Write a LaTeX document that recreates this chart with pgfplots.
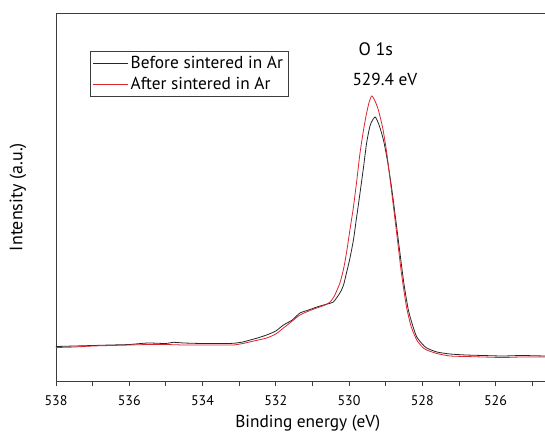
\documentclass[border=0pt]{standalone}
\usepackage{pgfplots}
\pgfplotsset{compat=1.18}
\usepackage{fontspec}
\setmainfont{PT Sans}
\definecolor{redline}{RGB}{220,35,45}
\definecolor{axgray}{RGB}{60,60,60}
\pgfplotstableread{
E I
538.0 34.5
537.5 35
537.0 35.5
536.5 36
536.0 36.5
535.5 38
535.0 37.5
534.8 38.7
534.5 38
534.0 37.5
533.5 37.5
533.16 37.7
532.9 39
532.7 41
532.5 43
532.25 46
532.0 50
531.79 56
531.55 61
531.34 68
531.1 71
530.88 74
530.6 77
530.43 79
530.25 88
530.15 96
530.07 108
529.98 122
529.88 141
529.80 162
529.70 188
529.6 215
529.52 238
529.42 256
529.29 264
529.18 256
529.06 241
528.95 220
528.84 194
528.72 160
528.61 128
528.5 97
528.38 71
528.25 54
528.15 44
528.0 37
527.88 33
527.6 29
527.24 27
526.8 26
526.33 25.5
525.8 25
525.3 25.5
524.65 25
}\before
\pgfplotstableread{
E I
538.0 33.5
537.5 34
537 35
536.5 35.5
536 36
535.5 36.5
535 36.5
534.5 36
534 36
533.5 36
533.16 36
532.9 37.5
532.6 40
532.25 43
532.0 47
531.79 53
531.55 60
531.34 66
531.1 70
530.88 73
530.65 76
530.52 79
530.4 85
530.25 98
530.15 112
530.07 128
529.98 150
529.88 174
529.79 200
529.70 228
529.6 252
529.52 268
529.45 279
529.38 285
529.29 280
529.20 271
529.08 253
528.97 228
528.85 193
528.70 148
528.57 108
528.43 74
528.3 54
528.15 41
528.0 34
527.88 31
527.6 27.5
527.24 25
526.8 24.5
526.33 24
525.8 23.5
525.3 24
524.65 24
}\after
\begin{document}
\begin{tikzpicture}
\begin{axis}[
  name=ax,
  scale only axis,
  width=366.75pt, height=276pt,
  x dir=reverse,
  xmin=524.65, xmax=538,
  ymin=0, ymax=368,
  axis x line*=bottom,
  axis y line*=left,
  axis line style={axgray, line width=0.6pt},
  xtick={526,528,...,538},
  minor xtick={525,527,...,537},
  ytick=\empty,
  tick align=outside,
  tick pos=bottom,
  major tick length=3.5pt,
  minor tick length=3.5pt,
  every tick/.style={axgray, line width=0.6pt},
  xticklabel style={font=\fontsize{10.5}{12}\selectfont, yshift=-4pt},
  /pgf/number format/assume math mode=true,
  /pgf/number format/1000 sep={},
  xlabel={Binding energy (eV)},
  ylabel={Intensity (a.u.)},
  every axis x label/.style={at={(axis description cs:0.515,-0.114)},anchor=center,font=\fontsize{13}{15}\selectfont},
  every axis y label/.style={at={(axis description cs:-0.078,0.5)},rotate=90,anchor=center,font=\fontsize{13.5}{15}\selectfont},
  legend style={at={(rel axis cs:0.0695,0.897)},anchor=north west,draw=axgray,line width=0.6pt,
    font=\fontsize{13}{15}\selectfont, inner xsep=2pt, inner ysep=1.5pt, row sep=1pt},
  legend cell align=left,
  legend image code/.code={\draw[#1] (0cm,0cm) -- (0.9cm,0cm);},
]
\addplot[black!85, line width=0.6pt, smooth, tension=0.4] table[x=E,y=I] {\before};
\addlegendentry{Before sintered in Ar}
\addplot[redline, line width=0.6pt, smooth, tension=0.4] table[x=E,y=I] {\after};
\addlegendentry{After sintered in Ar}
\node[font=\fontsize{13.5}{15}\selectfont] at (axis cs:529.27,332) {O 1s};
\node[font=\fontsize{13}{15}\selectfont] at (axis cs:529.02,302) {529.4 eV};
\end{axis}
\draw[axgray, line width=0.6pt] (ax.north west) -- (ax.north east);
\pgfresetboundingbox
\path[use as bounding box] ([shift={(-42pt,-42pt)}]ax.south west) rectangle ([shift={(0pt,9.75pt)}]ax.north east);
\end{tikzpicture}
\end{document}
